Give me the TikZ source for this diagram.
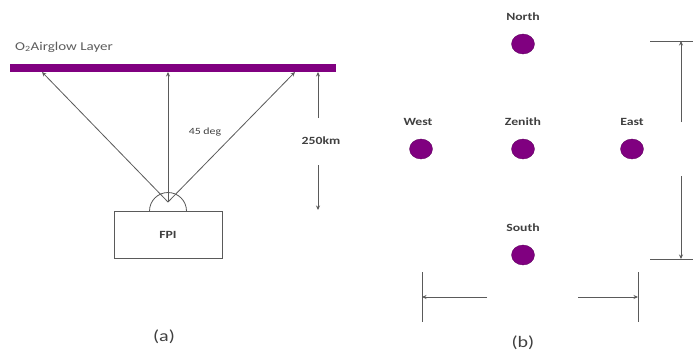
\documentclass[tikz,border=0pt]{standalone}
\usepackage{fontspec}
\usetikzlibrary{arrows.meta,shapes.geometric}
\newfontfamily\lblfont[FakeStretch=1.25]{Carlito}
\definecolor{layer}{HTML}{800080}
\definecolor{ink}{HTML}{404040}
\definecolor{linegray}{HTML}{5A5A5A}
\tikzset{
  conn/.style={draw=linegray, line width=0.8pt, -{Stealth[length=4.5pt,width=4pt]}},
  plain/.style={draw=linegray, line width=0.8pt},
  lbl/.style={text=ink, font=\lblfont\bfseries\fontsize{11}{13}\selectfont, inner sep=0pt},
  small/.style={text=ink, font=\lblfont\fontsize{9.5}{11}\selectfont, inner sep=0pt},
  caption/.style={text=ink, font=\lblfont\fontsize{16}{18}\selectfont, inner sep=0pt},
  spot/.style={ellipse, fill=layer, draw=layer!70!black, line width=0.3pt, minimum width=23pt, minimum height=20pt, inner sep=0pt},
}
\begin{document}
\begin{tikzpicture}[x=1pt, y=-1pt]
\useasboundingbox[fill=white] (0,0) rectangle (693,354);

% ---------- (a) side view ----------
\node[text=ink!85, font=\lblfont\fontsize{12}{14}\selectfont, anchor=west, inner sep=0pt] (title) at (15,47) {O\textsubscript{2}Airglow Layer};
\node[fill=layer, minimum width=326pt, minimum height=8pt, inner sep=0pt, anchor=north west] (bar) at (10,64) {};

\coordinate (pl) at (42,72);
\coordinate (pm) at (168,72);
\coordinate (pr) at (295,72);
\coordinate (apex) at (168,202);

\node[plain, fill=white, minimum width=108pt, minimum height=47pt, inner sep=0pt, anchor=north] (fpi) at (168,211) {};
\node[lbl] (fpilbl) at (fpi.center) {FPI};
% half dome on top of the instrument box
\draw[plain] (fpi.north) ++(-18.5,0) arc[start angle=180, end angle=360, radius=18.5];

\draw[conn] (apex) -- (pl);
\draw[conn] (apex) -- (pm);
\draw[conn] (apex) -- (pr);

\node[small] (deg) at (205,132) {45 deg};

\node[lbl] (height) at (321,141) {250km};
\coordinate (hup) at (318,118);
\coordinate (htop) at (318,72);
\coordinate (hdn) at (318,165);
\coordinate (hbot) at (318,210);
\draw[conn] (hup) -- (htop);
\draw[conn] (hdn) -- (hbot);

\node[caption] (capa) at (164,337) {(a)};

% ---------- (b) sky map ----------
\node[lbl] (nl) at (523,17) {North};
\node[spot] (n) at (523,44) {};
\node[lbl] (wl) at (418,122) {West};
\node[spot] (w) at (421,149) {};
\node[lbl] (zl) at (523,122) {Zenith};
\node[spot] (z) at (523,149) {};
\node[lbl] (el) at (632,122) {East};
\node[spot] (e) at (632,149) {};
\node[lbl] (sl) at (523,228) {South};
\node[spot] (s) at (523,255) {};

% vertical extent
\coordinate (t1) at (650,41);
\coordinate (t2) at (693,41);
\coordinate (b1) at (650,259);
\coordinate (b2) at (693,259);
\draw[plain] (t1) -- (t2);
\draw[plain] (b1) -- (b2);
\coordinate (vu) at (681,122);
\coordinate (vt) at (681,41);
\coordinate (vd) at (681,176);
\coordinate (vb) at (681,259);
\draw[conn] (vu) -- (vt);
\draw[conn] (vd) -- (vb);

% horizontal extent
\coordinate (l1) at (422,272);
\coordinate (l2) at (422,322);
\coordinate (r1) at (638,272);
\coordinate (r2) at (638,322);
\draw[plain] (l1) -- (l2);
\draw[plain] (r1) -- (r2);
\coordinate (hl0) at (487,297);
\coordinate (hl) at (422,297);
\coordinate (hr0) at (578,297);
\coordinate (hr) at (638,297);
\draw[conn] (hl0) -- (hl);
\draw[conn] (hr0) -- (hr);

\node[caption] (capb) at (523,343) {(b)};
\end{tikzpicture}
\end{document}
